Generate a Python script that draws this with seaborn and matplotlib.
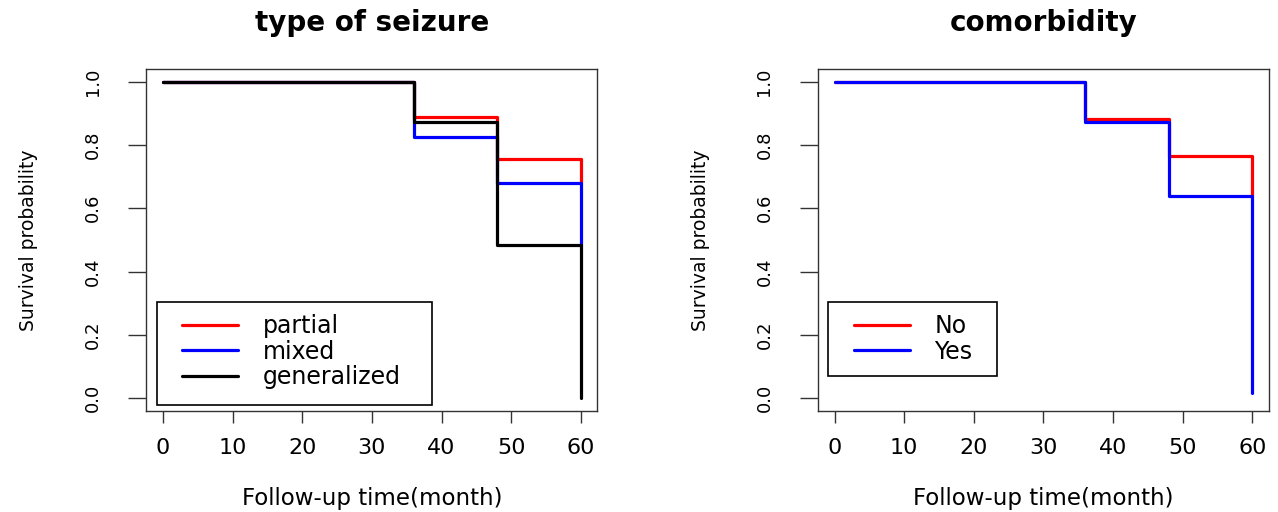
import matplotlib
matplotlib.use("Agg")
import matplotlib.pyplot as plt
from matplotlib.patches import Rectangle
import seaborn as sns
import pandas as pd

# Kaplan-Meier step values at each event time
times = [0, 36, 48, 60]

seizure_groups = ["partial", "mixed", "generalized"]
surv_partial = [1.0, 0.888, 0.756, 0.681]
surv_mixed = [1.0, 0.826, 0.681, 0.484]
surv_generalized = [1.0, 0.874, 0.484, 0.0]
seizure_colors = ["#FF0000", "#0000FF", "#000000"]

comorb_groups = ["No", "Yes"]
surv_no = [1.0, 0.881, 0.766, 0.640]
surv_yes = [1.0, 0.872, 0.640, 0.016]
comorb_colors = ["#FF0000", "#0000FF"]

x_ticks = [0, 10, 20, 30, 40, 50, 60]
y_ticks = [0.0, 0.2, 0.4, 0.6, 0.8, 1.0]


def build_frame(groups, series):
    rows = []
    for g, vals in zip(groups, series):
        for t, s in zip(times, vals):
            rows.append({"time": t, "surv": s, "group": g})
    return pd.DataFrame(rows)


df_seizure = build_frame(seizure_groups, [surv_partial, surv_mixed, surv_generalized])
df_comorb = build_frame(comorb_groups, [surv_no, surv_yes])

sns.set_theme(style="white")
plt.rcParams["font.family"] = ["DejaVu Sans"]
for key in ["text.color", "axes.labelcolor", "xtick.color", "ytick.color"]:
    plt.rcParams[key] = "black"

fig = plt.figure(figsize=(12.78, 5.12), dpi=100)
ax1 = fig.add_axes([0.1145, 0.1973, 0.353, 0.668])
ax2 = fig.add_axes([0.640, 0.1973, 0.353, 0.668])


def draw_panel(ax, df, groups, colors, title, box):
    sns.lineplot(data=df, x="time", y="surv", hue="group", hue_order=groups,
                 palette=colors, drawstyle="steps-post", estimator=None,
                 sort=False, linewidth=2.3, ax=ax, legend=False)
    ax.set_xlim(-2.4, 62.4)
    ax.set_ylim(-0.04, 1.04)
    ax.set_xticks(x_ticks)
    ax.set_xticklabels([str(v) for v in x_ticks], fontsize=16)
    ax.set_yticks(y_ticks)
    ax.set_yticklabels([f"{v:.1f}" for v in y_ticks], fontsize=13,
                       rotation=90, va="center")
    ax.tick_params(axis="x", direction="out", length=8.6, width=1,
                   color="#333333", pad=11, bottom=True)
    ax.tick_params(axis="y", direction="out", length=13, width=1,
                   color="#333333", pad=19, left=True)
    for sp in ax.spines.values():
        sp.set_visible(True)
        sp.set_color("#333333")
        sp.set_linewidth(1.0)
    ax.set_xlabel("Follow-up time(month)", fontsize=16.5, labelpad=21)
    ax.set_ylabel("Survival probability", fontsize=13.5, labelpad=33)
    ax.set_title(title, fontsize=20, fontweight="bold", pad=27)
    ax.grid(False)

    handles = [plt.Line2D([], [], color=c, linewidth=2.3) for c in colors]
    ax.legend(handles, groups, loc="upper left",
              bbox_to_anchor=(0.079, 0.283), fontsize=17,
              frameon=False, borderpad=0, handlelength=2.37,
              handletextpad=1.06, labelspacing=0.06, borderaxespad=0)
    ax.add_patch(Rectangle(box[:2], box[2], box[3], transform=ax.transAxes,
                           fill=False, edgecolor="black", linewidth=1.2,
                           zorder=5))


draw_panel(ax1, df_seizure, seizure_groups, seizure_colors, "type of seizure",
           (0.0237, 0.0175, 0.61, 0.301))
draw_panel(ax2, df_comorb, comorb_groups, comorb_colors, "comorbidity",
           (0.0222, 0.102, 0.375, 0.216))

fig.savefig("out.png", dpi=100, facecolor="white")
